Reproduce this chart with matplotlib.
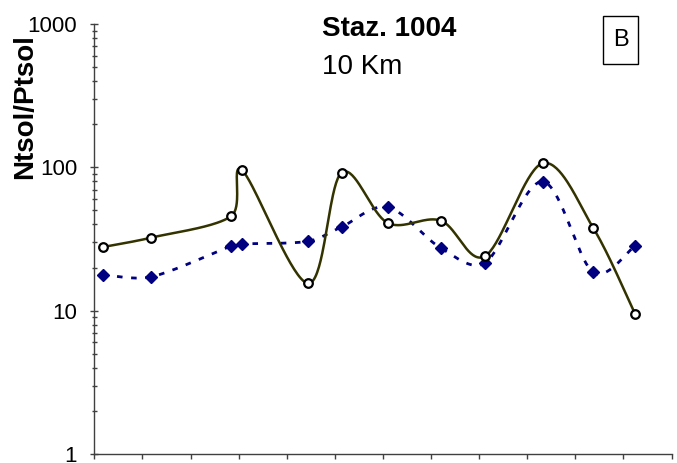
import numpy as np
import matplotlib
matplotlib.use("Agg")
import matplotlib.pyplot as plt
from matplotlib.patches import Rectangle

plt.rcParams['font.family'] = ['Liberation Sans', 'DejaVu Sans']

# dati
x_pos = [0.18, 1.18, 2.85, 3.07, 4.45, 5.14, 6.10, 7.20, 8.12, 9.32, 10.37, 11.24]
serie_cerchi = [27.8, 32.3, 45.8, 95.5, 15.5, 91.8, 40.9, 42.5, 24.0, 106.8, 37.8, 9.5]
serie_rombi = [17.8, 17.2, 28.3, 29.2, 30.5, 38.4, 52.7, 27.4, 21.5, 79.5, 18.5, 28.4]
x_ticks = list(range(0, 13))

W, H = 677, 463
ax_left, ax_right, ax_top, ax_bot = 94.3, 671.6, 24, 454

fig = plt.figure(figsize=(W / 100, H / 100), dpi=100)
ax = fig.add_axes([ax_left / W, (H - ax_bot) / H, (ax_right - ax_left) / W, (ax_bot - ax_top) / H])

sx = (ax_right - ax_left) / 12     # px per unita' x
sy = (ax_bot - ax_top) / 3         # px per decade


# curva "smussata" tipo Excel (bezier, calcolata in pixel)
def smussa(xs, ys, n=40):
    pts = np.column_stack([np.array(xs) * sx, np.log10(ys) * sy])
    m = len(pts)
    out = [pts[0]]
    for i in range(m - 1):
        p0 = pts[i - 1] if i > 0 else pts[i]
        p1 = pts[i]
        p2 = pts[i + 1]
        p3 = pts[i + 2] if i + 2 < m else pts[i + 1]
        d12 = np.hypot(*(p2 - p1))
        d02 = np.hypot(*(p2 - p0))
        d13 = np.hypot(*(p3 - p1))
        f0 = 1 / 6
        f1 = 1 / 6
        if d02 / 6 >= d12 / 3 and d02 > 0:
            f0 = d12 / d02 / 3
        if d13 / 6 >= d12 / 3 and d13 > 0:
            f1 = d12 / d13 / 3
        c1 = p1 + (p2 - p0) * f0
        c2 = p2 - (p3 - p1) * f1
        t = np.linspace(0, 1, n)[1:, None]
        seg = ((1 - t) ** 3) * p1 + 3 * ((1 - t) ** 2) * t * c1 + 3 * (1 - t) * t ** 2 * c2 + t ** 3 * p2
        out.extend(seg)
    out = np.array(out)
    return out[:, 0] / sx, 10 ** (out[:, 1] / sy)


cx, cy = smussa(x_pos, serie_cerchi)
rx, ry = smussa(x_pos, serie_rombi)

ax.plot(rx, ry, color='#000080', lw=2, linestyle=(0, (2.0, 3.1)))
ax.plot(x_pos, serie_rombi, 'D', color='#000080', ms=6.2, mec='#000080')
ax.plot(cx, cy, color='#333300', lw=1.8)
ax.plot(x_pos, serie_cerchi, 'o', mfc='white', mec='black', mew=1.6, ms=6.2)

ax.set_yscale('log')
ax.set_ylim(1, 1000)
ax.set_xlim(0, 12)
ax.set_xticks(x_ticks)
ax.set_xticklabels([])
ax.set_yticks([1, 10, 100, 1000])
ax.set_yticklabels(['1', '10', '100', '1000'])

ax.spines['top'].set_visible(False)
ax.spines['right'].set_visible(False)
for s in ['left', 'bottom']:
    ax.spines[s].set_color('#404040')
    ax.spines[s].set_linewidth(1)

ax.tick_params(axis='y', which='major', direction='inout', length=6.1, width=1,
               color='#404040', labelsize=16, pad=9.4)
ax.tick_params(axis='y', which='minor', direction='inout', length=3.6, width=1, color='#404040')
ax.tick_params(axis='y', which='minor', labelleft=False)
ax.tick_params(axis='x', which='major', direction='out', length=3.6, width=1, color='#404040')

fig.text(25 / W, 1 - 107 / H, 'Ntsol/Ptsol', rotation=90, fontsize=20, fontweight='bold',
         ha='center', va='center')
fig.text(322 / W, 1 - 36 / H, 'Staz. 1004', fontsize=20, fontweight='bold', va='baseline')
fig.text(322 / W, 1 - 74 / H, '10 Km', fontsize=20, va='baseline')

fig.patches.append(Rectangle((602.7 / W, 1 - 64 / H), 35.6 / W, 48 / H, transform=fig.transFigure,
                             fill=False, edgecolor='black', lw=1))
fig.text(620.5 / W, 1 - 39.5 / H, 'B', fontsize=17, ha='center', va='center')

fig.savefig('out.png', dpi=100)
